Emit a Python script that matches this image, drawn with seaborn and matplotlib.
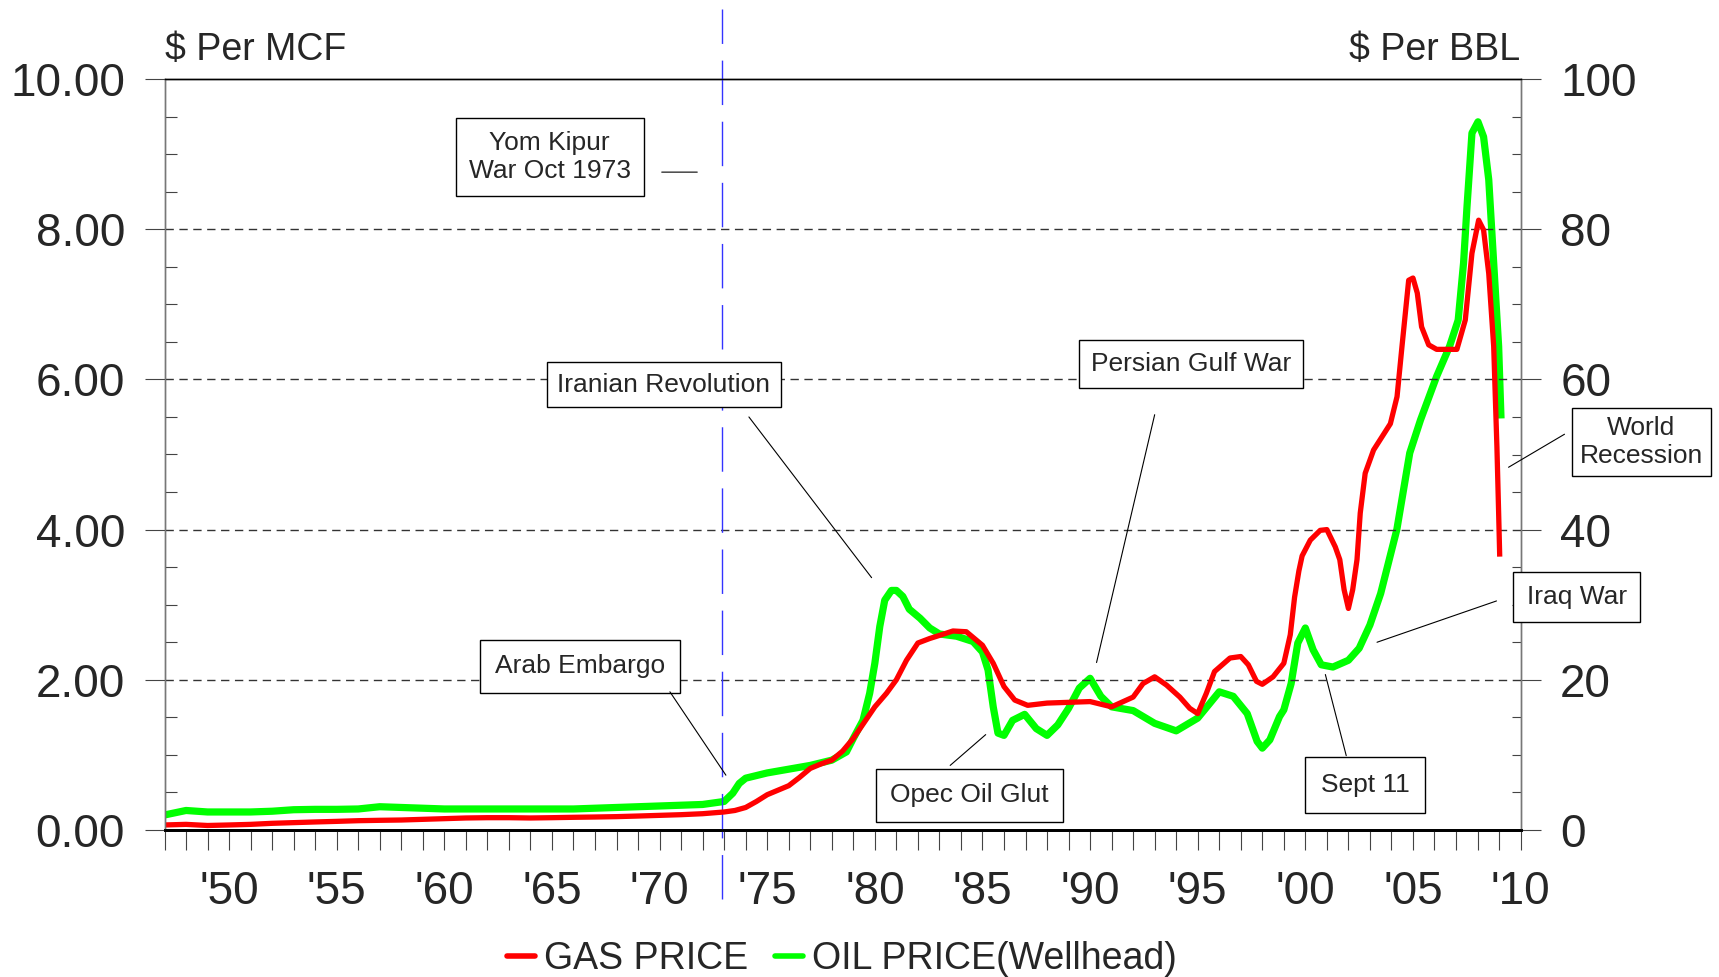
import matplotlib
matplotlib.use("Agg")
import matplotlib.pyplot as plt
import numpy as np
import pandas as pd
import seaborn as sns
from matplotlib.lines import Line2D
from matplotlib.ticker import MultipleLocator, FuncFormatter

# ---------------- data ----------------
gas_years = [1947, 1948, 1949, 1950, 1951, 1952, 1953, 1954, 1955, 1956, 1957, 1958,
             1959, 1960, 1961, 1962, 1963, 1964, 1965, 1966, 1967, 1968, 1969, 1970,
             1971, 1972, 1973, 1973.5, 1974, 1974.5, 1975, 1975.5, 1976, 1976.5, 1977,
             1977.5, 1978, 1978.5, 1979, 1979.5, 1980, 1980.54, 1981, 1981.47, 1982,
             1982.55, 1983.1, 1983.63, 1984.25, 1985, 1985.5, 1986, 1986.5, 1987.1,
             1988, 1989, 1990, 1991, 1992, 1992.46, 1993, 1993.55, 1994.17, 1994.63,
             1995, 1995.4, 1995.78, 1996.5, 1997, 1997.35, 1997.73, 1998, 1998.5, 1999,
             1999.3, 1999.5, 1999.7, 1999.85, 2000.23, 2000.69, 2001.0, 2001.39, 2001.6,
             2001.8, 2002.0, 2002.2, 2002.4, 2002.55, 2002.78, 2003.17, 2003.95, 2004.26,
             2004.49, 2004.8, 2005.0, 2005.2, 2005.4, 2005.73, 2006.1, 2007.04, 2007.43,
             2007.74, 2008.05, 2008.28, 2008.52, 2008.75, 2008.9, 2008.98, 2009.03]
gas_price = [0.067, 0.075, 0.06, 0.067, 0.075, 0.089, 0.098, 0.107, 0.115, 0.124, 0.129,
             0.133, 0.142, 0.151, 0.16, 0.164, 0.164, 0.16, 0.164, 0.169, 0.173, 0.178,
             0.186, 0.195, 0.204, 0.217, 0.24, 0.26, 0.30, 0.38, 0.47, 0.53, 0.59, 0.70,
             0.82, 0.88, 0.93, 1.05, 1.22, 1.43, 1.64, 1.82, 2.00, 2.26, 2.49, 2.55, 2.60,
             2.65, 2.64, 2.46, 2.22, 1.91, 1.73, 1.66, 1.69, 1.70, 1.71, 1.64, 1.77, 1.95,
             2.04, 1.93, 1.77, 1.62, 1.55, 1.82, 2.11, 2.29, 2.31, 2.20, 1.98, 1.94, 2.04,
             2.22, 2.60, 3.10, 3.45, 3.65, 3.86, 3.99, 4.00, 3.77, 3.60, 3.20, 2.95, 3.20,
             3.60, 4.22, 4.75, 5.06, 5.41, 5.77, 6.44, 7.32, 7.35, 7.15, 6.70, 6.46, 6.40,
             6.40, 6.79, 7.68, 8.12, 7.99, 7.41, 6.44, 5.10, 4.22, 3.64]

oil_years = [1947, 1948, 1949, 1950, 1951, 1952, 1953, 1954, 1955, 1956, 1957, 1958,
             1959, 1960, 1961, 1962, 1963, 1964, 1965, 1966, 1967, 1968, 1969, 1970,
             1971, 1972, 1973, 1973.4, 1973.7, 1974, 1975, 1976, 1977, 1978, 1978.68,
             1979, 1979.45, 1979.76, 1980, 1980.23, 1980.46, 1980.77, 1981, 1981.3,
             1981.6, 1982.1, 1982.55, 1983, 1983.8, 1984.56, 1985, 1985.26, 1985.5,
             1985.72, 1986, 1986.4, 1986.96, 1987.5, 1988, 1988.5, 1989, 1989.5, 1990,
             1990.5, 1991, 1992, 1993, 1994, 1995, 1996, 1996.65, 1997.3, 1997.76, 1998,
             1998.35, 1998.8, 1999, 1999.34, 1999.65, 2000, 2000.36, 2000.74, 2001.28,
             2002, 2002.5, 2003, 2003.5, 2004.25, 2004.85, 2005.35, 2006.1, 2006.7,
             2007.1, 2007.35, 2007.51, 2007.74, 2008.02, 2008.28, 2008.52, 2008.75,
             2008.98, 2009.09]
oil_price = [2.0, 2.6, 2.4, 2.4, 2.4, 2.5, 2.7, 2.75, 2.75, 2.8, 3.1, 3.0, 2.9, 2.8, 2.8,
             2.8, 2.8, 2.8, 2.8, 2.8, 2.9, 3.0, 3.1, 3.2, 3.3, 3.4, 3.8, 4.9, 6.2, 6.9,
             7.6, 8.1, 8.6, 9.3, 10.4, 12.2, 14.6, 18.2, 22.2, 27.1, 30.6, 31.9, 31.9,
             31.1, 29.4, 28.2, 26.9, 26.1, 25.8, 25.1, 23.7, 21.3, 16.4, 12.9, 12.6, 14.6,
             15.4, 13.5, 12.6, 14.0, 16.2, 18.9, 20.2, 17.8, 16.4, 15.9, 14.2, 13.2, 14.9,
             18.4, 17.8, 15.5, 11.8, 10.9, 12.0, 15.1, 16.0, 19.5, 24.9, 26.9, 24.0, 22.0,
             21.7, 22.6, 24.2, 27.3, 31.5, 40.0, 50.2, 54.6, 60.4, 64.4, 67.9, 75.5, 83.0,
             92.8, 94.3, 92.3, 86.6, 75.5, 64.4, 54.8]

gas_label = "GAS PRICE"
oil_label = "OIL PRICE(Wellhead)"
left_title = "$ Per MCF"
right_title = "$ Per BBL"

gas_df = pd.DataFrame({"year": gas_years, "price": gas_price})
oil_df = pd.DataFrame({"year": oil_years, "price": oil_price})

# ---------------- style ----------------
sns.set_style("white")
plt.rcParams["font.family"] = ["Liberation Sans", "DejaVu Sans"]
plt.rcParams["axes.unicode_minus"] = False
plt.rcParams["lines.solid_joinstyle"] = "round"
plt.rcParams["lines.solid_capstyle"] = "round"

W, H = 1719, 977
fig = plt.figure(figsize=(W / 100, H / 100), dpi=100)
ax = fig.add_axes([164.5 / W, 1 - 830 / H, (1520.6 - 164.5) / W, (830 - 79) / H])
ax2 = ax.twinx()

RED = "#FF0000"
GREEN = "#00FF00"

sns.lineplot(data=oil_df, x="year", y="price", ax=ax2, color=GREEN, lw=5.2,
             estimator=None, sort=False, legend=False)
sns.lineplot(data=gas_df, x="year", y="price", ax=ax, color=RED, lw=3.8,
             estimator=None, sort=False, legend=False)
for ln in ax.lines + ax2.lines:
    ln.set_solid_joinstyle("round")
    ln.set_solid_capstyle("butt")

ax.set_zorder(ax2.get_zorder() + 1)
ax.patch.set_visible(False)

ax.set_xlim(1947, 2010)
ax.set_ylim(0, 10)
ax2.set_ylim(0, 100)
ax.set_xlabel("")
ax.set_ylabel("")
ax2.set_ylabel("")

# grid
for yv in [2, 4, 6, 8]:
    ax.axhline(yv, color="#333333", lw=1.0, ls=(0, (6, 4)), zorder=0)

# ticks
ax.xaxis.set_major_locator(MultipleLocator(5))
ax.xaxis.set_minor_locator(MultipleLocator(1))
ax.xaxis.set_major_formatter(FuncFormatter(lambda v, p: "'%02d" % (int(round(v)) % 100)))
ax.yaxis.set_major_locator(MultipleLocator(2))
ax.yaxis.set_minor_locator(MultipleLocator(0.5))
ax.yaxis.set_major_formatter(FuncFormatter(lambda v, p: "%.2f" % v))
ax2.yaxis.set_major_locator(MultipleLocator(20))
ax2.yaxis.set_minor_locator(MultipleLocator(5))
ax2.yaxis.set_major_formatter(FuncFormatter(lambda v, p: "%d" % v))

tc = "#444444"
ax.tick_params(axis="x", which="both", direction="out", length=14.5, width=0.8,
               color=tc, labelsize=33, pad=14, bottom=True, top=False)
ax.tick_params(axis="y", which="major", direction="out", length=14.5, width=0.8,
               color=tc, labelsize=33, pad=14, left=True, right=False)
ax.tick_params(axis="y", which="minor", direction="in", length=8.5, width=0.8,
               color=tc, left=True, right=False)
ax2.tick_params(axis="y", which="major", direction="out", length=14.5, width=0.8,
                color=tc, labelsize=33, pad=14, right=True, left=False)
ax2.tick_params(axis="y", which="minor", direction="in", length=6.5, width=0.8,
                color=tc, right=True, left=False)

for a in (ax, ax2):
    a.spines["left"].set_color("#777777")
    a.spines["right"].set_color("#777777")
    a.spines["left"].set_linewidth(1.0)
    a.spines["right"].set_linewidth(1.0)
    a.spines["top"].set_color("black")
    a.spines["top"].set_linewidth(1.0)
    a.spines["bottom"].set_color("black")
    a.spines["bottom"].set_linewidth(2.0)
    a.spines["top"].set_visible(True)

# Yom Kippur vertical dashed line
ax.axvline(1972.9, ymin=-0.092, ymax=1.093, color="#3333FF", lw=1.0,
           ls=(0, (32, 12)), clip_on=False, zorder=1)

# axis titles
fig.text(164.5 / W, 1 - 60 / H, left_title, ha="left", va="baseline", fontsize=27)
fig.text(1520.6 / W, 1 - 60 / H, right_title, ha="right", va="baseline", fontsize=27)

# annotations
conn = dict(arrowstyle="-", lw=0.8, color="black", shrinkA=0, shrinkB=0)
FS = 19


def note(text, x, y, p0, p1, pad=0.5):
    b = dict(boxstyle="square,pad=%.2f" % pad, fc="white", ec="black", lw=1.0)
    ax.text(x, y, text, ha="center", va="center", multialignment="center",
            fontsize=FS, bbox=b, zorder=6, clip_on=False)
    ax.annotate("", xy=p1, xytext=p0, arrowprops=conn, annotation_clip=False, zorder=6)


note("Yom Kipur\nWar Oct 1973", 1964.9, 8.96, (1970.1, 8.76), (1971.75, 8.76), 0.5)
note("Iranian Revolution", 1970.2, 5.93, (1974.15, 5.50), (1979.85, 3.36), 0.4)
note("Persian Gulf War", 1994.7, 6.21, (1993.0, 5.53), (1990.3, 2.23), 0.45)
note("World\nRecession", 2015.6, 5.17, (2009.44, 4.83), (2012.04, 5.27), 0.3)
note("Iraq War", 2012.6, 3.10, (2003.33, 2.50), (2008.88, 3.05), 0.5)
note("Arab Embargo", 1966.3, 2.18, (1970.48, 1.84), (1973.08, 0.73), 0.55)
note("Opec Oil Glut", 1984.4, 0.46, (1983.5, 0.86), (1985.15, 1.27), 0.55)
note("Sept 11", 2002.77, 0.60, (2001.9, 0.99), (2000.93, 2.07), 0.6)

# legend
handles = [Line2D([0], [0], color=RED, lw=4.0), Line2D([0], [0], color=GREEN, lw=4.0)]
fig.legend(handles, [gas_label, oil_label], loc="center",
           bbox_to_anchor=(842 / W, 1 - 959 / H), ncol=2, frameon=False, fontsize=27,
           handlelength=0.75, handletextpad=0.25, columnspacing=0.7, borderpad=0.0)

fig.savefig("out.png", dpi=100)
